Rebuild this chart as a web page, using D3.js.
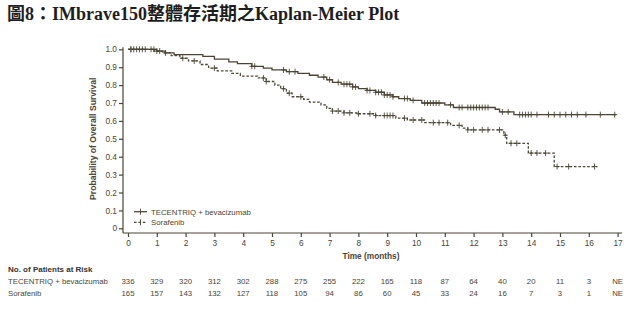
<!DOCTYPE html>
<html>
<head>
<meta charset="utf-8">
<script src="https://cdn.jsdelivr.net/npm/d3@7"></script>
<style>
  body { margin: 0; background: #fff; }
  svg text { font-family: "Liberation Sans", Arial, sans-serif; }
</style>
</head>
<body>
<svg id="chart" width="634" height="326"></svg>
<script>
// survival steps (time in months, survival probability)
const tecTimes = [0, 1.0, 1.3, 1.6, 2.6, 3.0, 3.5, 3.8, 4.3, 4.7, 5.0, 5.5, 5.9, 6.3, 6.6, 6.9, 7.1, 7.4, 7.8, 8.0, 8.3, 8.6, 8.9, 9.2, 9.4, 9.8, 10.2, 11.0, 11.3, 12.75, 12.9, 13.4, 16.95];
const tecSurv  = [1.0, 0.99, 0.98, 0.97, 0.96, 0.945, 0.93, 0.92, 0.905, 0.895, 0.885, 0.875, 0.865, 0.855, 0.845, 0.83, 0.815, 0.805, 0.79, 0.78, 0.77, 0.76, 0.745, 0.735, 0.725, 0.715, 0.70, 0.69, 0.675, 0.665, 0.65, 0.635, 0.635];
const sorTimes = [0, 0.9, 1.2, 1.5, 1.8, 2.1, 2.5, 2.8, 3.1, 3.6, 3.9, 4.5, 4.8, 5.1, 5.3, 5.5, 5.7, 6.1, 6.3, 6.7, 6.9, 7.1, 7.5, 8.0, 8.6, 9.3, 9.7, 10.3, 11.2, 11.6, 11.8, 13.05, 13.15, 13.9, 14.8, 16.3];
const sorSurv  = [1.0, 0.99, 0.98, 0.965, 0.95, 0.935, 0.915, 0.895, 0.88, 0.865, 0.85, 0.84, 0.82, 0.80, 0.78, 0.755, 0.735, 0.72, 0.705, 0.69, 0.67, 0.655, 0.645, 0.64, 0.63, 0.615, 0.605, 0.59, 0.575, 0.56, 0.55, 0.52, 0.475, 0.42, 0.345, 0.345];

// censoring marks
const tecCensor = [0.1, 0.2, 0.4, 0.6, 0.9, 1.1, 1.3, 4.3, 4.4, 5.4, 5.6, 5.8, 6.8, 7.0, 7.3, 7.5, 7.6, 7.7, 7.8, 7.9, 8.3, 8.4, 8.6, 8.7, 8.8, 8.9, 9.0, 9.1, 9.2, 9.6, 9.7, 9.9, 10.3, 10.4, 10.5, 10.6, 10.7, 10.8, 11.2, 11.5, 11.6, 11.8, 11.9, 12.0, 12.1, 12.2, 12.3, 12.4, 12.5, 13.0, 13.2, 13.6, 13.7, 13.8, 13.9, 14.0, 14.2, 14.6, 14.8, 15.0, 15.2, 15.4, 15.6, 15.9, 16.4, 16.9];
const sorCensor = [0.1, 0.3, 0.5, 0.8, 1.0, 1.9, 2.3, 3.0, 4.7, 4.8, 5.4, 5.6, 6.0, 7.1, 7.3, 7.5, 7.7, 8.0, 8.4, 8.6, 8.9, 9.0, 9.1, 9.2, 9.6, 9.9, 10.2, 10.6, 10.8, 11.1, 11.5, 11.8, 12.0, 12.3, 12.5, 12.9, 13.1, 13.3, 13.5, 14.0, 14.2, 14.5, 14.9, 15.3, 16.2];

// risk table
const riskMonths = d3.range(0, 18);
const tecRisk = ["336", "329", "320", "312", "302", "288", "275", "255", "222", "165", "118", "87", "64", "40", "20", "11", "3", "NE"];
const sorRisk = ["165", "157", "143", "132", "127", "118", "105", "94", "86", "60", "45", "33", "24", "16", "7", "3", "1", "NE"];

const yTicks = [0, 0.1, 0.2, 0.3, 0.4, 0.5, 0.6, 0.7, 0.8, 0.9, 1.0];
const seriesNames = ["TECENTRIQ + bevacizumab", "Sorafenib"];

const ink = "#4a4536";
const svg = d3.select("#chart");

const x = d3.scaleLinear().domain([0, 17]).range([128, 617.6]);
const y = d3.scaleLinear().domain([0, 1]).range([228.3, 49.3]);

// title
svg.append("text")
  .attr("x", 7).attr("y", 20)
  .style("font-family", "'Liberation Serif', 'Noto Sans CJK TC', serif")
  .style("font-weight", "bold")
  .style("font-size", "18px")
  .attr("fill", "#1e1e1e")
  .text("圖8：IMbrave150整體存活期之Kaplan-Meier Plot");

// axes
const yAxis = svg.append("g")
  .attr("transform", "translate(123,0)")
  .call(d3.axisLeft(y).tickValues(yTicks).tickSize(4).tickPadding(2)
    .tickFormat(d => d === 0 ? "0" : d3.format(".1f")(d)));
yAxis.select(".domain").attr("d", `M0,${y(1) - 2}V${233}`);

const xAxis = svg.append("g")
  .attr("transform", "translate(0,233)")
  .call(d3.axisBottom(x).tickValues(riskMonths).tickSize(4).tickPadding(3).tickFormat(d3.format("d")));
xAxis.select(".domain").attr("d", `M123,0H622`);

svg.selectAll(".domain, .tick line").attr("stroke", ink).attr("stroke-width", 1.2);
svg.selectAll(".tick text").attr("fill", ink).style("font-size", "8.3px").style("font-family", "'Liberation Sans', Arial, sans-serif");

// axis titles
svg.append("text")
  .attr("transform", `translate(96,${(y(1) + y(0)) / 2}) rotate(-90)`)
  .attr("text-anchor", "middle")
  .attr("fill", ink)
  .style("font-weight", "bold").style("font-size", "8.6px")
  .text("Probability of Overall Survival");

svg.append("text")
  .attr("x", 371).attr("y", 259)
  .attr("text-anchor", "middle")
  .attr("fill", ink)
  .style("font-weight", "bold").style("font-size", "8.3px")
  .text("Time (months)");

// curves
const stepLine = d3.line().curve(d3.curveStepAfter).x(d => x(d[0])).y(d => y(d[1]));
const survAt = (times, surv, t) => surv[d3.bisectRight(times, t) - 1];

const series = [
  { times: tecTimes, surv: tecSurv, censor: tecCensor, dash: null },
  { times: sorTimes, surv: sorSurv, censor: sorCensor, dash: "2.6,1.8" }
];

series.forEach(s => {
  svg.append("path")
    .datum(d3.zip(s.times, s.surv))
    .attr("d", stepLine)
    .attr("fill", "none")
    .attr("stroke", ink)
    .attr("stroke-width", 1.3)
    .attr("stroke-dasharray", s.dash);

  svg.append("g").selectAll("path")
    .data(s.censor)
    .join("path")
    .attr("d", t => {
      const cx = x(t), cy = y(survAt(s.times, s.surv, t));
      return `M${cx},${cy - 3}V${cy + 3}M${cx - 2.5},${cy}H${cx + 2.5}`;
    })
    .attr("stroke", ink)
    .attr("stroke-width", 0.9);
});

// legend
const legend = svg.append("g");
seriesNames.forEach((name, i) => {
  const ly = 211.7 + i * 10.6;
  legend.append("path")
    .attr("d", `M134,${ly}H147`)
    .attr("stroke", ink).attr("stroke-width", 1.3)
    .attr("stroke-dasharray", series[i].dash);
  legend.append("path")
    .attr("d", `M140.5,${ly - 3}V${ly + 3}`)
    .attr("stroke", ink).attr("stroke-width", 0.9);
  legend.append("text")
    .attr("x", 151).attr("y", ly + 2.8)
    .attr("fill", ink).style("font-size", "7.8px")
    .text(name);
});

// risk table
svg.append("text")
  .attr("x", 8).attr("y", 271.5)
  .attr("fill", "#333")
  .style("font-weight", "bold").style("font-size", "8px")
  .text("No. of Patients at Risk");

[tecRisk, sorRisk].forEach((row, i) => {
  const ry = 284 + i * 11.5;
  svg.append("text")
    .attr("x", 8).attr("y", ry)
    .attr("fill", ink).style("font-size", "7.8px")
    .text(seriesNames[i]);
  svg.append("g").selectAll("text")
    .data(row)
    .join("text")
    .attr("x", (d, j) => x(riskMonths[j]))
    .attr("y", ry)
    .attr("text-anchor", "middle")
    .attr("fill", ink).style("font-size", "7.8px")
    .text(d => d);
});
</script>
</body>
</html>
